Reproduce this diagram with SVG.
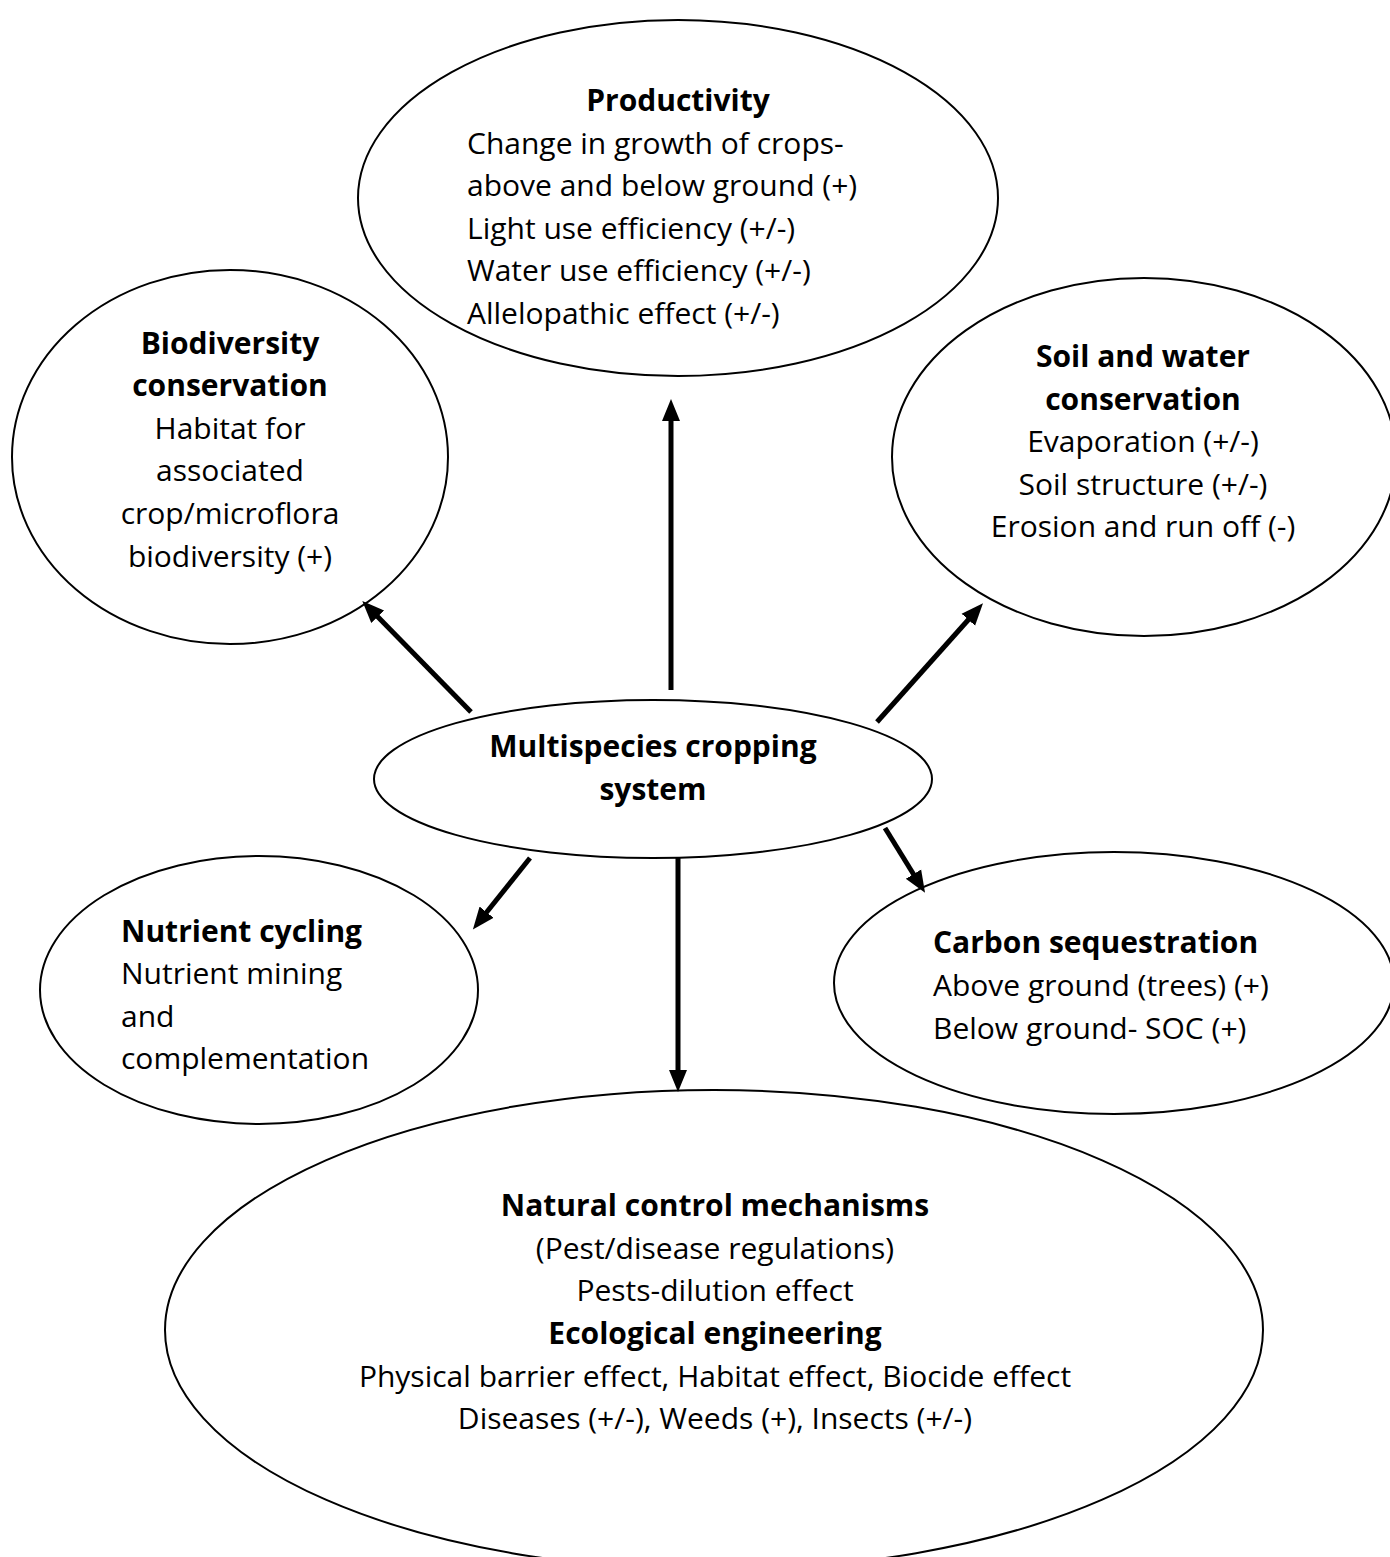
<svg xmlns="http://www.w3.org/2000/svg" width="1390" height="1557" viewBox="0 0 1390 1557">
<style>
.node ellipse{fill:#fff;stroke:#000;stroke-width:2}
text{font-family:"Open Sans","Noto Sans","Liberation Sans",sans-serif;font-size:30px;fill:#000}
.b{font-weight:bold}
.c{text-anchor:middle}
.conn line{stroke:#000;stroke-width:5}
</style>
<defs>
<marker id="ah" markerUnits="userSpaceOnUse" markerWidth="24" markerHeight="20" viewBox="0 -10 24 20" refX="1" refY="0" orient="auto">
<path d="M0,-9 L22,0 L0,9 z" fill="#000"/>
</marker>
</defs>
<rect width="1390" height="1557" fill="#fff"/>
<g id="productivity" class="node">
<ellipse cx="678" cy="198" rx="320" ry="178"/>
<text class="b c" x="678" y="111">Productivity</text>
<text x="467" y="154">Change in growth of crops-</text>
<text x="467" y="196">above and below ground (+)</text>
<text x="467" y="239">Light use efficiency (+/-)</text>
<text x="467" y="281">Water use efficiency (+/-)</text>
<text x="467" y="324">Allelopathic effect (+/-)</text>
</g>
<g id="biodiversity" class="node">
<ellipse cx="230" cy="457" rx="218" ry="187"/>
<text class="b c" x="230" y="354">Biodiversity</text>
<text class="b c" x="230" y="396">conservation</text>
<text class="c" x="230" y="439">Habitat for</text>
<text class="c" x="230" y="481">associated</text>
<text class="c" x="230" y="524">crop/microflora</text>
<text class="c" x="230" y="567">biodiversity (+)</text>
</g>
<g id="soil" class="node">
<ellipse cx="1144" cy="457" rx="252" ry="179"/>
<text class="b c" x="1143" y="367">Soil and water</text>
<text class="b c" x="1143" y="410">conservation</text>
<text class="c" x="1143" y="452">Evaporation (+/-)</text>
<text class="c" x="1143" y="495">Soil structure (+/-)</text>
<text class="c" x="1143" y="537">Erosion and run off (-)</text>
</g>
<g id="multispecies" class="node">
<ellipse cx="653" cy="779" rx="279" ry="79"/>
<text class="b c" x="653" y="757">Multispecies cropping</text>
<text class="b c" x="653" y="800">system</text>
</g>
<g id="nutrient" class="node">
<ellipse cx="259" cy="990" rx="219" ry="134"/>
<text class="b" x="121" y="942">Nutrient cycling</text>
<text x="121" y="984">Nutrient mining</text>
<text x="121" y="1027">and</text>
<text x="121" y="1069">complementation</text>
</g>
<g id="carbon" class="node">
<ellipse cx="1114" cy="983" rx="280" ry="131"/>
<text class="b" x="933" y="953">Carbon sequestration</text>
<text x="933" y="996">Above ground (trees) (+)</text>
<text x="933" y="1039">Below ground- SOC (+)</text>
</g>
<g id="natural" class="node">
<ellipse cx="714" cy="1330" rx="549" ry="240"/>
<text class="b c" x="715" y="1216">Natural control mechanisms</text>
<text class="c" x="715" y="1259">(Pest/disease regulations)</text>
<text class="c" x="715" y="1301">Pests-dilution effect</text>
<text class="b c" x="715" y="1344">Ecological engineering</text>
<text class="c" x="715" y="1387">Physical barrier effect, Habitat effect, Biocide effect</text>
<text class="c" x="715" y="1429">Diseases (+/-), Weeds (+), Insects (+/-)</text>
</g>
<g id="connectors" class="conn">
<line x1="671" y1="690" x2="671" y2="420" marker-end="url(#ah)"/>
<line x1="471" y1="712" x2="377" y2="616" marker-end="url(#ah)"/>
<line x1="877" y1="722" x2="969" y2="619" marker-end="url(#ah)"/>
<line x1="530" y1="858" x2="486" y2="913" marker-end="url(#ah)"/>
<line x1="885" y1="828" x2="914" y2="875" marker-end="url(#ah)"/>
<line x1="678" y1="858" x2="678" y2="1071" marker-end="url(#ah)"/>
</g>
</svg>
